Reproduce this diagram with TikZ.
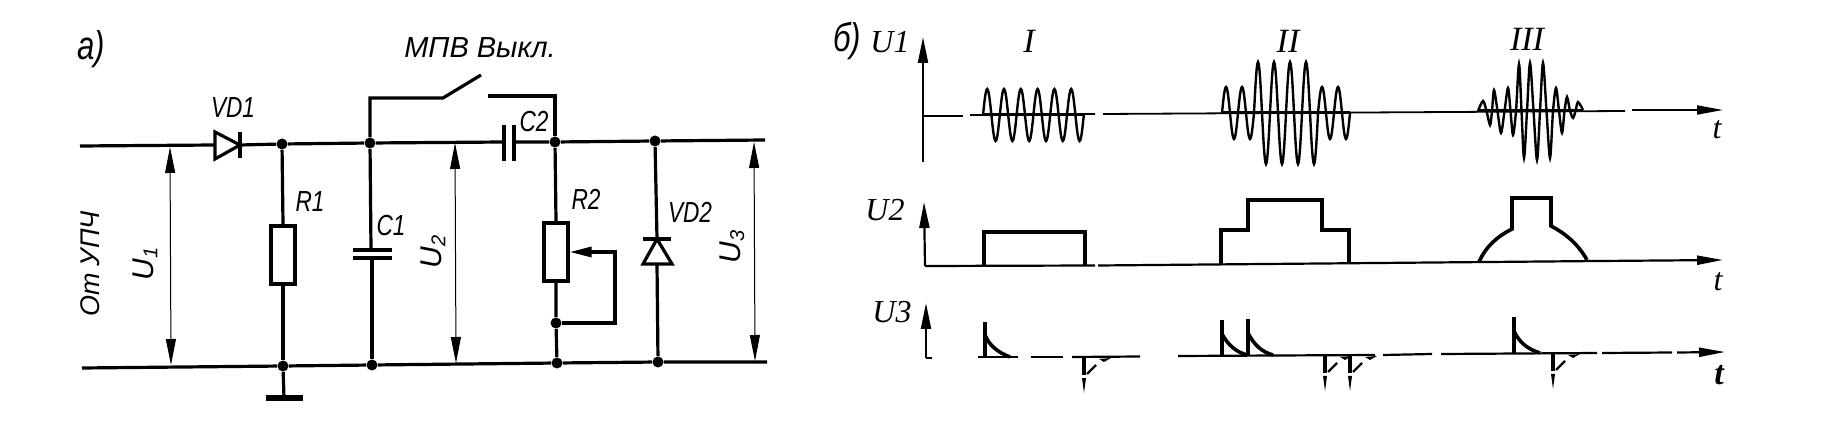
\documentclass[tikz,border=0pt]{standalone}
\usepackage{fontspec}
\setmainfont{Liberation Sans}
\newfontfamily\labf{Liberation Sans}[FakeStretch=0.78]
\newfontfamily\labw{Liberation Sans}
\newfontfamily\serf{Liberation Serif}
\usetikzlibrary{arrows.meta}
\newcommand{\lbl}{\labf\itshape\fontsize{14.5}{14.5}\selectfont}
\newcommand{\ser}{\serf\itshape\fontsize{16}{16}\selectfont}
\newcommand{\lowd}[1]{\raisebox{-0.25ex}{\fontsize{10}{10}\selectfont #1}}
\newcommand{\negspike}[2]{%
  \draw[trace] (#1,#2) -- (#1,{#2+18});
  \fill ({#1-2},{#2+21}) -- ({#1+2},{#2+21}) -- (#1,{#2+36}) -- cycle;
  \draw[wave] ({#1+3},{#2+17}) -- ({#1+12},{#2+8});
  \fill ({#1+15},{#2+2}) -- ({#1+27},{#2+1}) -- ({#1+20},{#2+5}) -- cycle;}
\tikzset{
  x=0.5pt,y=-0.5pt,
  wire/.style={line width=1.6pt,line join=miter},
  dimline/.style={line width=0.5pt,{Triangle[length=13pt,width=5pt]}-{Triangle[length=13pt,width=5pt]}},
  dot/.style={circle,fill=black,inner sep=0pt,minimum size=5.5pt},
  res/.style={rectangle,draw,line width=1.6pt,fill=white,inner sep=0pt,minimum width=12pt,minimum height=29pt},
  lab/.style={inner sep=0pt,font=\lbl},
  sl/.style={inner sep=0pt,font=\ser},
  axisline/.style={line width=0.9pt},
  wave/.style={line width=1.2pt},
  trace/.style={line width=1.8pt},
  basethick/.style={line width=1.5pt},
  uparrow/.style={line width=1.1pt,-{Triangle[length=13pt,width=5pt]}},
  rightarrow/.style={line width=0.9pt,-{Triangle[length=13pt,width=4.5pt]}}
}
\begin{document}
\begin{tikzpicture}
\path[use as bounding box,fill=white] (0,0) rectangle (1824,432);
% ---------- a) circuit ----------
\coordinate (inT) at (80,146);
\coordinate (inB) at (82,368);
\coordinate (outT) at (765,140);
\coordinate (outB) at (767,362);
\node[dot] (j1) at (282,144) {};
\node[dot] (j2) at (370,143) {};
\node[dot] (j3) at (555,142) {};
\node[dot] (j4) at (655,141) {};
\node[dot] (b1) at (283,366) {};
\node[dot] (b2) at (372,365) {};
\node[dot] (b3) at (557,363) {};
\node[dot] (b4) at (658,362) {};
\node[dot] (j5) at (556,323) {};
\coordinate (gnd) at (284,398);
% rails
\coordinate (d1a) at (215,145);
\coordinate (d1k) at (240,145);
\coordinate (c2a) at (504,142);
\coordinate (c2b) at (514,142);
\draw[wire] (inT) -- (d1a);
\draw[wire] (d1k) -- (j1) -- (j2) -- (c2a);
\draw[wire] (c2b) -- (j3) -- (j4) -- (outT);
\draw[wire] (inB) -- (b1) -- (b2) -- (b3) -- (b4) -- (outB);
% VD1
\draw[wire,fill=white] (215,132) -- (240,145) -- (215,159) -- cycle;
\draw[wire] (240,132) -- (240,158);
% ground
\draw[wire] (b1) -- (gnd);
\draw[line width=2.6pt] (266,398) -- (303,398);
% R1
\node[res] (R1) at (283,255) {};
\draw[wire] (j1) -- (R1.north);
\draw[wire] (R1.south) -- (b1);
% C1
\coordinate (c1a) at (371,250);
\coordinate (c1b) at (372,258);
\draw[wire] (j2) -- (c1a);
\draw[wire] (c1b) -- (b2);
\draw[wire] (353,250) -- (392,250);
\draw[wire] (353,258) -- (392,258);
% C2
\draw[wire] (504,125) -- (504,161);
\draw[wire] (514,125) -- (514,161);
% switch
\coordinate (swA) at (370,98);
\coordinate (swB) at (443,98);
\coordinate (swC) at (481,75);
\coordinate (swD) at (488,96);
\coordinate (swE) at (555,96);
\draw[wire] (j2) -- (swA) -- (swB) -- (swC);
\draw[wire] (swD) -- (swE) -- (j3);
% R2
\node[res] (R2) at (556,252) {};
\draw[wire] (j3) -- (R2.north);
\draw[wire] (R2.south) -- (j5) -- (b3);
\coordinate (wB) at (615,323);
\coordinate (wT) at (615,252);
\draw[wire,-{Triangle[length=11pt,width=5pt]}] (j5) -- (wB) -- (wT) -- (R2.east);
% VD2
\coordinate (vd2k) at (657,239);
\coordinate (vd2a) at (657,264);
\draw[wire] (j4) -- (vd2k);
\draw[wire] (vd2a) -- (b4);
\draw[wire] (643,239) -- (671,239);
\draw[wire,fill=white] (657,239) -- (672,264) -- (643,264) -- cycle;
% dimension arrows
\coordinate (u1t) at (170,147);
\coordinate (u1b) at (171,365);
\coordinate (u2t) at (455,143);
\coordinate (u2b) at (456,363);
\coordinate (u3t) at (754,142);
\coordinate (u3b) at (755,361);
\draw[dimline] (u1t) -- (u1b);
\draw[dimline] (u2t) -- (u2b);
\draw[dimline] (u3t) -- (u3b);
% labels
\node[inner sep=0pt,font=\labf\itshape\fontsize{20}{20}\selectfont] (la) at (91,49) {а)};
\node[inner sep=0pt,font=\labw\itshape\fontsize{14.5}{14.5}\selectfont] (lm) at (480,48) {МПВ Выкл.};
\node[lab] (lvd1) at (233,108) {VD1};
\node[lab] (lr1) at (310,202) {R1};
\node[lab] (lc1) at (391,226) {C1};
\node[lab] (lr2) at (586,199) {R2};
\node[lab] (lc2) at (534,122) {C2};
\node[lab] (lvd2) at (690,212) {VD2};
\node[rotate=90,inner sep=0pt,font=\labw\itshape\fontsize{15}{15}\selectfont] (lu1) at (145,264) {U\lowd{1}};
\node[rotate=90,inner sep=0pt,font=\labw\itshape\fontsize{15}{15}\selectfont] (lu2) at (433,252) {U\lowd{2}};
\node[rotate=90,inner sep=0pt,font=\labw\itshape\fontsize{15}{15}\selectfont] (lu3) at (732,247) {U\lowd{3}};
\node[rotate=90,inner sep=0pt,font=\labw\itshape\fontsize{13.5}{13.5}\selectfont] (lot) at (90,264) {От УПЧ};
% ---------- b) graphs ----------
\node[inner sep=0pt,font=\labf\itshape\fontsize{20}{20}\selectfont] (lb) at (847,41) {б)};
\node[sl] (tu1) at (890,42) {U1};
\node[sl] (tu2) at (885,210) {U2};
\node[sl] (tu3) at (892,312) {U3};
\node[sl,font=\serf\itshape\fontsize{17}{17}\selectfont] (ti) at (1029,41) {I};
\node[sl,font=\serf\itshape\fontsize{17}{17}\selectfont] (tii) at (1288,41) {II};
\node[sl,font=\serf\itshape\fontsize{17}{17}\selectfont] (tiii) at (1527,39) {III};
\node[sl] (t1) at (1717,130) {t};
\node[sl] (t2) at (1718,282) {t};
\node[sl,font=\serf\bfseries\itshape\fontsize{17}{17}\selectfont] (t3) at (1719,375) {t};
% axes U1
\coordinate (a1o) at (923,162);
\coordinate (a1t) at (923,37);
\draw[uparrow] (a1o) -- (a1t);
\draw[axisline] (923,116) -- (963,116);
\draw[axisline] (970,115) -- (1095,114);
\draw[axisline] (1103,114) -- (1625,111);
\draw[rightarrow] (1632,110) -- (1723,110);
\draw[basethick] (983,115) -- (1085,115);
\draw[basethick] (1222,113) -- (1350,113);
\draw[basethick] (1478,111) -- (1583,111);
% burst I
\draw[wave] plot[domain=983:1083.8,samples=145] (\x,{115-26*sin(21.43*(\x-983))});
% burst II
\draw[wave] plot[domain=1222:1350,samples=193]
  (\x,{113-((\x>1254 && \x<1318)?51:26)*sin(22.5*(\x-1222))});
% burst III
\draw[wave] plot[smooth,tension=0.5] coordinates {(1478,111)(1483,101)(1486.5,111)(1490,125)(1492,111)(1494,90)(1497.5,111)(1501,133)(1504.5,111)(1508,88)(1510.5,111)(1513,135)(1516,111)(1519,64)(1521.5,111)(1524,158)(1527,111)(1530,63)(1533.5,111)(1537,160)(1540,111)(1543,63)(1546.5,111)(1550,158)(1553,111)(1556,88)(1559,111)(1562,133)(1564.5,111)(1567,97)(1570,111)(1573,118)(1575.5,111)(1578,102)(1583,110)};
% axes U2
\coordinate (a2t) at (924,202);
\coordinate (a2o) at (925,266);
\draw[uparrow] (a2o) -- (a2t);
\draw[line width=1.1pt] (925,266) -- (1095,265.5);
\draw[line width=1.1pt] (1098,265.5) -- (1600,261);
\draw[line width=1.1pt,-{Triangle[length=13pt,width=4.5pt]}] (1600,261) -- (1723,260);
\draw[trace] (984,266) -- (984,232) -- (1085,232) -- (1085,266);
\draw[trace] (1221,264) -- (1221,230) -- (1248,230) -- (1248,200) -- (1322,200) -- (1322,230) -- (1349,230) -- (1349,263);
\draw[trace] (1479,262) .. controls (1486,246) and (1498,236) .. (1512,229) -- (1512,198) -- (1551,198) -- (1551,226) .. controls (1566,234) and (1578,244) .. (1587,260);
% axes U3
\coordinate (a3t) at (926,303);
\coordinate (a3o) at (926,358);
\coordinate (a3r) at (932,358);
\draw[uparrow] (a3o) -- (a3t);
\draw[line width=1.1pt] (a3o) -- (a3r);
\draw[line width=1.1pt] (978,357) -- (1018,357);
\draw[line width=1.1pt] (1031,357) -- (1063,357);
\draw[line width=1.1pt] (1072,357) -- (1140,356.5);
\draw[line width=1.1pt] (1178,356) -- (1375,355);
\draw[line width=1.1pt] (1383,355) -- (1432,354);
\draw[line width=1.1pt] (1441,354) -- (1597,353);
\draw[line width=1.1pt] (1602,353) -- (1672,352.5);
\draw[rightarrow,line width=1.1pt] (1677,352.5) -- (1725,352);
% positive spikes
\draw[trace] (985,357) -- (985,322);
\draw[trace] (985,335) .. controls (989,345) and (997,352) .. (1010,357);
\draw[trace] (1222,356) -- (1222,320);
\draw[trace] (1222,334) .. controls (1228,345) and (1236,352) .. (1247,355);
\draw[trace] (1248,355) -- (1248,319);
\draw[trace] (1248,333) .. controls (1254,345) and (1262,352) .. (1273,355);
\draw[trace] (1514,353) -- (1514,317);
\draw[trace] (1514,331) .. controls (1519,342) and (1527,349) .. (1540,353);
% negative spikes
\negspike{1084}{357}
\negspike{1325}{355}
\negspike{1350}{355}
\negspike{1553}{353}
\end{tikzpicture}
\end{document}
